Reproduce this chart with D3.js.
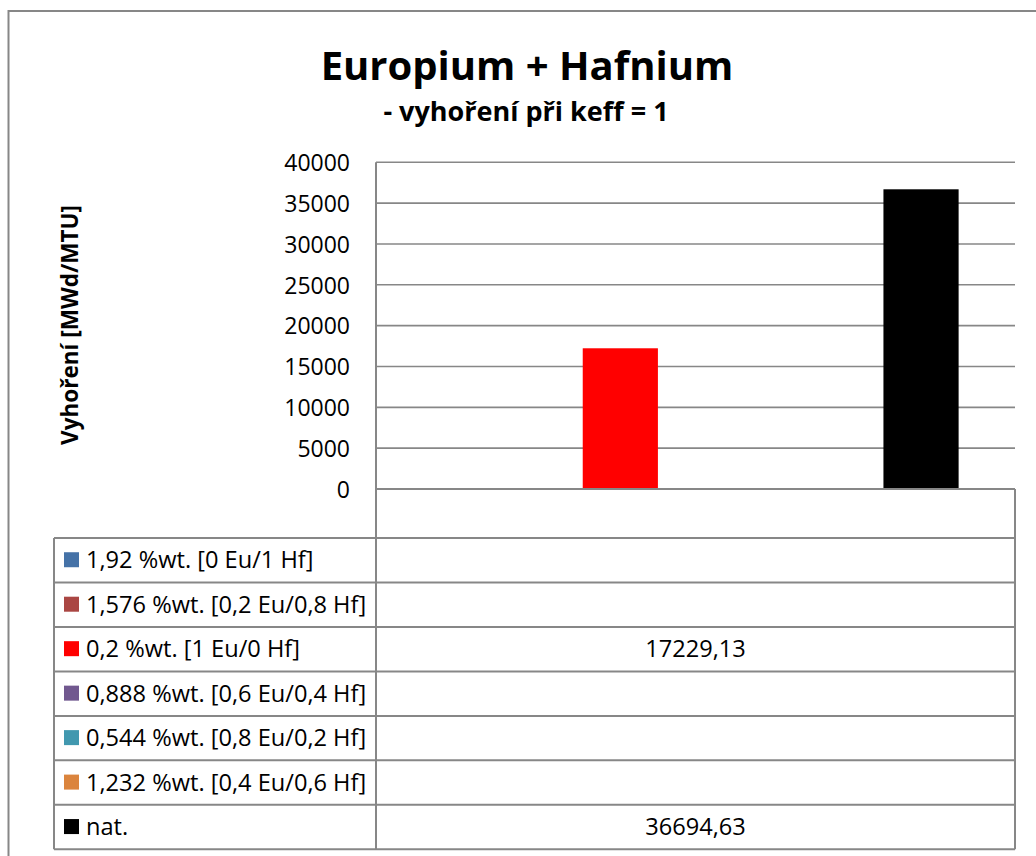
<!DOCTYPE html>
<html>
<head>
<meta charset="utf-8">
<script src="https://cdn.jsdelivr.net/npm/d3@7"></script>
<style>
  html, body { margin: 0; padding: 0; background: #fff; }
  svg { display: block; font-family: "Open Sans", "Noto Sans", sans-serif; }
</style>
</head>
<body>
<svg id="chart" width="1036" height="856"></svg>
<script>
// Series shown in the data table (one category, seven series)
const seriesLabels = [
  "1,92 %wt. [0 Eu/1 Hf]",
  "1,576 %wt. [0,2 Eu/0,8 Hf]",
  "0,2 %wt. [1 Eu/0 Hf]",
  "0,888 %wt. [0,6 Eu/0,4 Hf]",
  "0,544 %wt. [0,8 Eu/0,2 Hf]",
  "1,232 %wt. [0,4 Eu/0,6 Hf]",
  "nat."
];
const seriesColors = ["#4572A7", "#AA4643", "#FF0000", "#71588F", "#4198AF", "#DB843D", "#000000"];
const seriesValues = [null, null, 17229.13, null, null, null, 36694.63];
const yTickValues = [0, 5000, 10000, 15000, 20000, 25000, 30000, 35000, 40000];

const titleText = "Europium + Hafnium";
const subtitleText = "- vyhoření při keff = 1";
const yAxisTitle = "Vyhoření [MWd/MTU]";

const svg = d3.select("#chart");
const gridColor = "#878787";

// Plot area and data-table geometry
const plot = { left: 376, right: 1015, top: 162.3, bottom: 489 };
const table = { left: 54, headerBottom: 538, bottom: 849.3 };
const rowH = (table.bottom - table.headerBottom) / seriesLabels.length;

const y = d3.scaleLinear().domain([0, 40000]).range([plot.bottom, plot.top]);
const x = d3.scaleBand().domain(d3.range(seriesLabels.length))
  .range([plot.left, plot.right]).paddingInner(0).paddingOuter(0.75);

const fmt = d3.formatLocale({ decimal: ",", thousands: "", grouping: [3], currency: ["", ""] }).format(".2f");

// Outer chart frame
svg.append("rect")
  .attr("x", 8.5).attr("y", 11).attr("width", 1100).attr("height", 900)
  .attr("fill", "#fff").attr("stroke", gridColor).attr("stroke-width", 2);

// Titles
svg.append("text")
  .attr("x", 527).attr("y", 80).attr("text-anchor", "middle")
  .attr("font-weight", 700).attr("font-size", 40).attr("fill", "#000")
  .text(titleText);
svg.append("text")
  .attr("x", 526).attr("y", 121).attr("text-anchor", "middle")
  .attr("font-weight", 700).attr("font-size", 27).attr("fill", "#000")
  .text(subtitleText);

// Y axis title
svg.append("text")
  .attr("transform", "translate(78,325) rotate(-90)")
  .attr("text-anchor", "middle")
  .attr("font-weight", 700).attr("font-size", 22.5).attr("fill", "#000")
  .text(yAxisTitle);

// Horizontal gridlines
svg.append("g").selectAll("line").data(yTickValues.filter(d => d > 0)).join("line")
  .attr("x1", plot.left).attr("x2", plot.right)
  .attr("y1", d => y(d)).attr("y2", d => y(d))
  .attr("stroke", gridColor).attr("stroke-width", 1.6);

// Y axis labels
const yAxis = d3.axisLeft(y).tickValues(yTickValues).tickSize(0).tickPadding(26).tickFormat(d3.format("d"));
const yg = svg.append("g").attr("transform", `translate(${plot.left},0)`).call(yAxis);
yg.select(".domain").remove();
yg.selectAll("text").attr("font-size", 23).attr("font-family", "Open Sans").attr("fill", "#000").attr("dy", "0.36em");

// Bars
svg.append("g").selectAll("rect")
  .data(seriesValues.map((v, i) => ({ v, i })).filter(d => d.v != null))
  .join("rect")
  .attr("x", d => x(d.i)).attr("width", x.bandwidth())
  .attr("y", d => y(d.v)).attr("height", d => y(0) - y(d.v))
  .attr("fill", d => seriesColors[d.i]);

// Data table grid
const tg = svg.append("g").attr("stroke", gridColor).attr("stroke-width", 2).attr("fill", "none");
// zero line, which is also the top of the category cell
tg.append("line").attr("x1", plot.left).attr("x2", plot.right).attr("y1", y(0)).attr("y2", y(0));
// value axis line continuing into the table
tg.append("line").attr("x1", plot.left).attr("x2", plot.left).attr("y1", plot.top).attr("y2", table.bottom);
tg.append("line").attr("x1", plot.right).attr("x2", plot.right).attr("y1", y(0)).attr("y2", table.bottom);
tg.append("line").attr("x1", table.left).attr("x2", table.left).attr("y1", table.headerBottom).attr("y2", table.bottom);
tg.selectAll("line.row").data(d3.range(seriesLabels.length + 1)).join("line").attr("class", "row")
  .attr("x1", table.left).attr("x2", plot.right)
  .attr("y1", i => table.headerBottom + i * rowH).attr("y2", i => table.headerBottom + i * rowH);

// Legend keys and series names
const rows = svg.append("g").selectAll("g").data(seriesLabels).join("g")
  .attr("transform", (d, i) => `translate(0,${table.headerBottom + i * rowH})`);
rows.append("rect")
  .attr("x", 64).attr("y", rowH / 2 - 8).attr("width", 15).attr("height", 15)
  .attr("fill", (d, i) => seriesColors[i]);
rows.append("text")
  .attr("x", 86).attr("y", rowH / 2).attr("dy", "0.35em")
  .attr("font-size", 23.6).attr("fill", "#000")
  .text(d => d);
// Values
rows.append("text")
  .attr("x", (plot.left + plot.right) / 2).attr("y", rowH / 2).attr("dy", "0.35em")
  .attr("text-anchor", "middle").attr("font-size", 23.6).attr("fill", "#000")
  .text((d, i) => seriesValues[i] == null ? "" : fmt(seriesValues[i]));
</script>
</body>
</html>
